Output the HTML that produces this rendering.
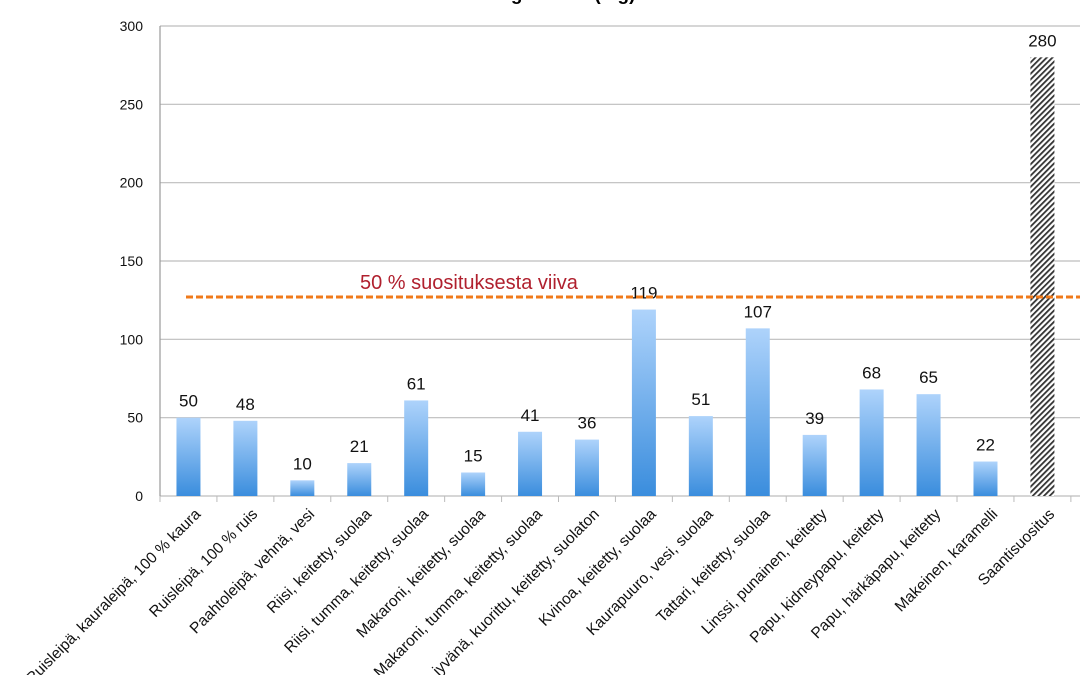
<!DOCTYPE html>
<html><head><meta charset="utf-8"><style>
body{margin:0;background:#fff;width:1080px;height:675px;overflow:hidden}
svg{display:block;font-family:"Liberation Sans",sans-serif}
</style></head><body>
<svg id="chart" width="1080" height="675">
<defs>
<linearGradient id="bg" x1="0" y1="0" x2="0" y2="1"><stop offset="0" stop-color="#aed3fb"/><stop offset="1" stop-color="#3a8ddd"/></linearGradient>
<pattern id="hatch" width="4" height="4" patternUnits="userSpaceOnUse" patternTransform="rotate(45)"><rect width="4" height="4" fill="#fff"/><rect width="1.8" height="4" fill="#333"/></pattern>
</defs>
<text x="560" y="0" text-anchor="middle" font-size="19" font-weight="bold">Magnesium (mg)</text>
</svg>
<script>
const categories=["Ruisleipä, kauraleipä, 100 % kaura","Ruisleipä, 100 % ruis","Paahtoleipä, vehnä, vesi","Riisi, keitetty, suolaa","Riisi, tumma, keitetty, suolaa","Makaroni, keitetty, suolaa","Makaroni, tumma, keitetty, suolaa","Hirssi, jyvänä, kuorittu, keitetty, suolaton","Kvinoa, keitetty, suolaa","Kaurapuuro, vesi, suolaa","Tattari, keitetty, suolaa","Linssi, punainen, keitetty","Papu, kidneypapu, keitetty","Papu, härkäpapu, keitetty","Makeinen, karamelli","Saantisuositus"];
const values=[50,48,10,21,61,15,41,36,119,51,107,39,68,65,22,280];
const yTicks=[0,50,100,150,200,250,300];
const refValue=127;
const refLabel="50 % suosituksesta viiva";
const svg=document.getElementById('chart');
const NS='http://www.w3.org/2000/svg';
const x0=160,step=56.93,y0=496,yTop=26,yMax=300;
const y=v=>y0-(v/yMax)*(y0-yTop);
const xc=i=>x0+step*(i+0.5);
function mk(t,a,txt){const e=document.createElementNS(NS,t);for(const k in a)e.setAttribute(k,a[k]);if(txt!==undefined)e.textContent=txt;svg.appendChild(e);return e;}
yTicks.forEach(t=>{
  const g=mk('line',{x1:x0,x2:1080,y1:y(t),y2:y(t),stroke:'#bdbdbd','stroke-width':1.2});
  
  
  const l=mk('text',{x:143,y:y(t)+5,'text-anchor':'end','font-size':14,fill:'#111'},t);
  
  
});
const ax=mk('line',{x1:x0,x2:x0,y1:yTop,y2:y0,stroke:'#999','stroke-width':1.2});


for(let i=0;i<=categories.length;i++){
  const tk=mk('line',{x1:x0+step*i,x2:x0+step*i,y1:y0,y2:y0+6,stroke:'#bbb'});
  
  
}
values.forEach((v,i)=>{
  const last=i===values.length-1;
  const b=mk('rect',{x:xc(i)-12,y:y(v),width:24,height:y0-y(v),fill:last?'url(#hatch)':'url(#bg)'});
  
  
  const t=mk('text',{x:xc(i),y:y(v)-11,'text-anchor':'middle','font-size':17,fill:'#111'},v);
  
  
  const lx=xc(i)+13,ly=y0+19;
  const c=mk('text',{x:lx,y:ly,'text-anchor':'end','font-size':15.5,fill:'#111',transform:`rotate(-45 ${lx} ${ly})`},categories[i]);
  
  
});
const rl=mk('line',{x1:186,x2:1080,y1:y(refValue),y2:y(refValue),stroke:'#f07a1a','stroke-width':3,'stroke-dasharray':'7 3'});


const rt=mk('text',{x:360,y:y(refValue)-8,'font-size':20,fill:'#b0202e'},refLabel);


</script>
</body></html>
